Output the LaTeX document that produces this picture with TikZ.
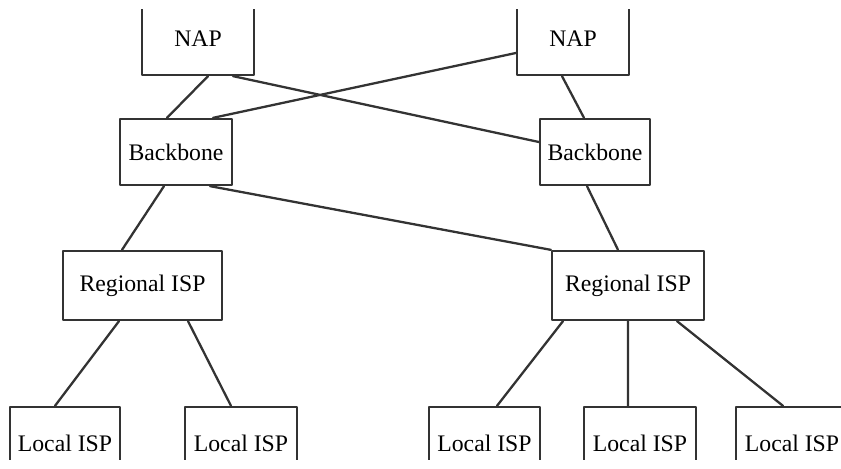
\documentclass[tikz,border=0pt]{standalone}
\usepackage{fontspec}
\setmainfont{Liberation Serif}
\tikzset{
  every picture/.style={line join=round, line cap=round},
  isp/.style={draw=black!80, line width=1.3pt, rectangle, inner sep=0pt,
    font=\fontsize{13.5}{16}\selectfont},
  link/.style={draw=black!80, line width=1.3pt},
}

\begin{document}
\begin{tikzpicture}
\useasboundingbox (0,0) rectangle (16.82,9.38);
\begin{scope}
\clip (0,0.18) rectangle (16.82,9.18);
% top level
\node[isp,minimum width=2.24cm,minimum height=1.44cm](nap1) at (3.96,8.60){NAP};
\node[isp,minimum width=2.24cm,minimum height=1.44cm](nap2) at (11.46,8.60){NAP};
% backbones
\node[isp,minimum width=2.24cm,minimum height=1.32cm](bb1) at (3.52,6.34){Backbone};
\node[isp,minimum width=2.20cm,minimum height=1.32cm](bb2) at (11.90,6.34){Backbone};
% regional
\node[isp,minimum width=3.18cm,minimum height=1.38cm](reg1) at (2.85,3.67){Regional ISP};
\node[isp,minimum width=3.04cm,minimum height=1.38cm](reg2) at (12.56,3.67){Regional ISP};
% local
\node[isp,minimum width=2.20cm,minimum height=1.44cm](loc1) at (1.30,0.52){Local ISP};
\node[isp,minimum width=2.24cm,minimum height=1.44cm](loc2) at (4.82,0.52){Local ISP};
\node[isp,minimum width=2.22cm,minimum height=1.44cm](loc3) at (9.69,0.52){Local ISP};
\node[isp,minimum width=2.24cm,minimum height=1.44cm](loc4) at (12.80,0.52){Local ISP};
\node[isp,minimum width=2.24cm,minimum height=1.44cm](loc5) at (15.84,0.52){Local ISP};

\draw[link]([xshift=0.20cm]nap1.south)--([xshift=-0.18cm]bb1.north)
([xshift=0.70cm]nap1.south)--([yshift=0.20cm]bb2.west)
([yshift=-0.28cm]nap2.west)--([xshift=0.74cm]bb1.north)
([xshift=-0.22cm]nap2.south)--([xshift=-0.22cm]bb2.north);
\draw[link]([xshift=-0.24cm]bb1.south)--([xshift=-0.41cm]reg1.north)
([xshift=0.68cm]bb1.south)--(reg2.north west)
([xshift=-0.16cm]bb2.south)--([xshift=-0.20cm]reg2.north);
\draw[link]([xshift=-0.47cm]reg1.south)--([xshift=-0.20cm]loc1.north)
([xshift=0.91cm]reg1.south)--([xshift=-0.20cm]loc2.north)
([xshift=-1.30cm]reg2.south)--([xshift=0.25cm]loc3.north)
(reg2.south)--([xshift=-0.24cm]loc4.north)
([xshift=0.98cm]reg2.south)--([xshift=-0.18cm]loc5.north);
\end{scope}
\end{tikzpicture}
\end{document}
